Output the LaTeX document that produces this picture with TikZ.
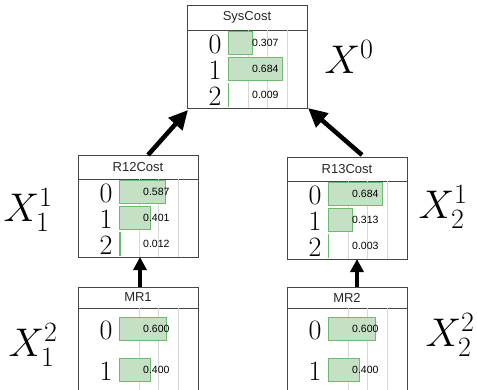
\RequirePackage{fix-cm}
\documentclass[tikz,border=0pt]{standalone}
\usepackage{fontspec}
\newfontfamily\tabfont{Liberation Sans}
\usetikzlibrary{calc}
\usetikzlibrary{arrows.meta}

\definecolor{barfill}{RGB}{198,224,198}
\definecolor{barline}{RGB}{110,186,110}
\definecolor{gridgray}{RGB}{214,214,214}
\definecolor{boxline}{RGB}{70,70,70}

\tikzset{
  cptbox/.style={draw=boxline, line width=0.6pt, minimum width=120pt, inner sep=0pt, outer sep=0pt},
  cpttitle/.style={font=\tabfont\fontsize{13}{13}\selectfont, text=black!85},
  rowlab/.style={font=\fontsize{28}{28}\selectfont, inner sep=0pt},
  rowval/.style={font=\tabfont\fontsize{10.5}{10.5}\selectfont, inner sep=0pt, anchor=west},
  bar/.style={fill=barfill, draw=barline, line width=0.7pt},
  gridln/.style={draw=gridgray, line width=0.5pt},
  dep/.style={line width=4.5pt, -{Triangle[length=19pt,width=18pt]}},
  depshort/.style={line width=3.6pt, -{Triangle[length=13pt,width=13pt]}},
  varlab/.style={font=\fontsize{40}{40}\selectfont, inner sep=0pt}
}

% name, left, top, title, title height, row height, rows, probabilities
\newcommand{\cpttable}[8]{%
  \pgfmathsetmacro{\boxh}{#5+#7*#6}
  \node[cptbox, minimum height=\boxh pt, anchor=north west] (#1) at (#2,#3) {};
  \node[cpttitle] (#1-t) at ($(#1.north)+(0,#5/2)$) {#4};
  \draw[boxline, line width=0.6pt] (#2,#3+#5) -- (#2+120,#3+#5);
  \foreach \g in {1,2,3}
    \draw[gridln] (#2+41+\g*19.75,#3+#5) -- (#2+41+\g*19.75,#3+\boxh);
  \foreach \pv [count=\rw] in {#8} {
    \pgfmathsetmacro{\yc}{#3+#5+(\rw-0.5)*#6}
    \draw[bar] (#2+41,\yc-11.5) rectangle ++(\pv*79,23);
    \node[rowlab] (#1-l\rw) at (#2+28,\yc+1.5) {\the\numexpr\rw-1\relax};
    \node[rowval] (#1-v\rw) at (#2+65,\yc) {\pv};
  }
}

\begin{document}
\begin{tikzpicture}[x=1pt, y=-1pt]
\useasboundingbox (0,0) rectangle (477,389);

\cpttable{sys}{187}{5}{SysCost}{25}{26}{3}{0.307,0.684,0.009}
\cpttable{r12}{78}{155}{R12Cost}{24}{26}{3}{0.587,0.401,0.012}
\cpttable{r13}{287}{157}{R13Cost}{24}{26}{3}{0.684,0.313,0.003}
\cpttable{mr1}{78}{287}{MR1}{21}{41}{2}{0.600,0.400}
\cpttable{mr2}{287}{287}{MR2}{21}{41}{2}{0.600,0.400}

% dependencies
\draw[dep] ([xshift=10pt]r12.north) -- ([shift={(1pt,-2pt)}]sys.south west);
\draw[dep] ([shift={(15pt,2pt)}]r13.north) -- ([shift={(1pt,0pt)}]sys.south east);
\draw[depshort] ([xshift=2pt]mr1.north) -- ([xshift=2pt]r12.south);
\draw[depshort] ([xshift=10pt]mr2.north) -- ([xshift=10pt]r13.south);

\node[varlab] (x0) at (349,57) {$X^0$};
\node[varlab] (x11) at (28,210) {$X_1^1$};
\node[varlab] (x21) at (443,207) {$X_2^1$};
\node[varlab] (x12) at (33,345) {$X_1^2$};
\node[varlab] (x22) at (450,335) {$X_2^2$};
\end{tikzpicture}
\end{document}
